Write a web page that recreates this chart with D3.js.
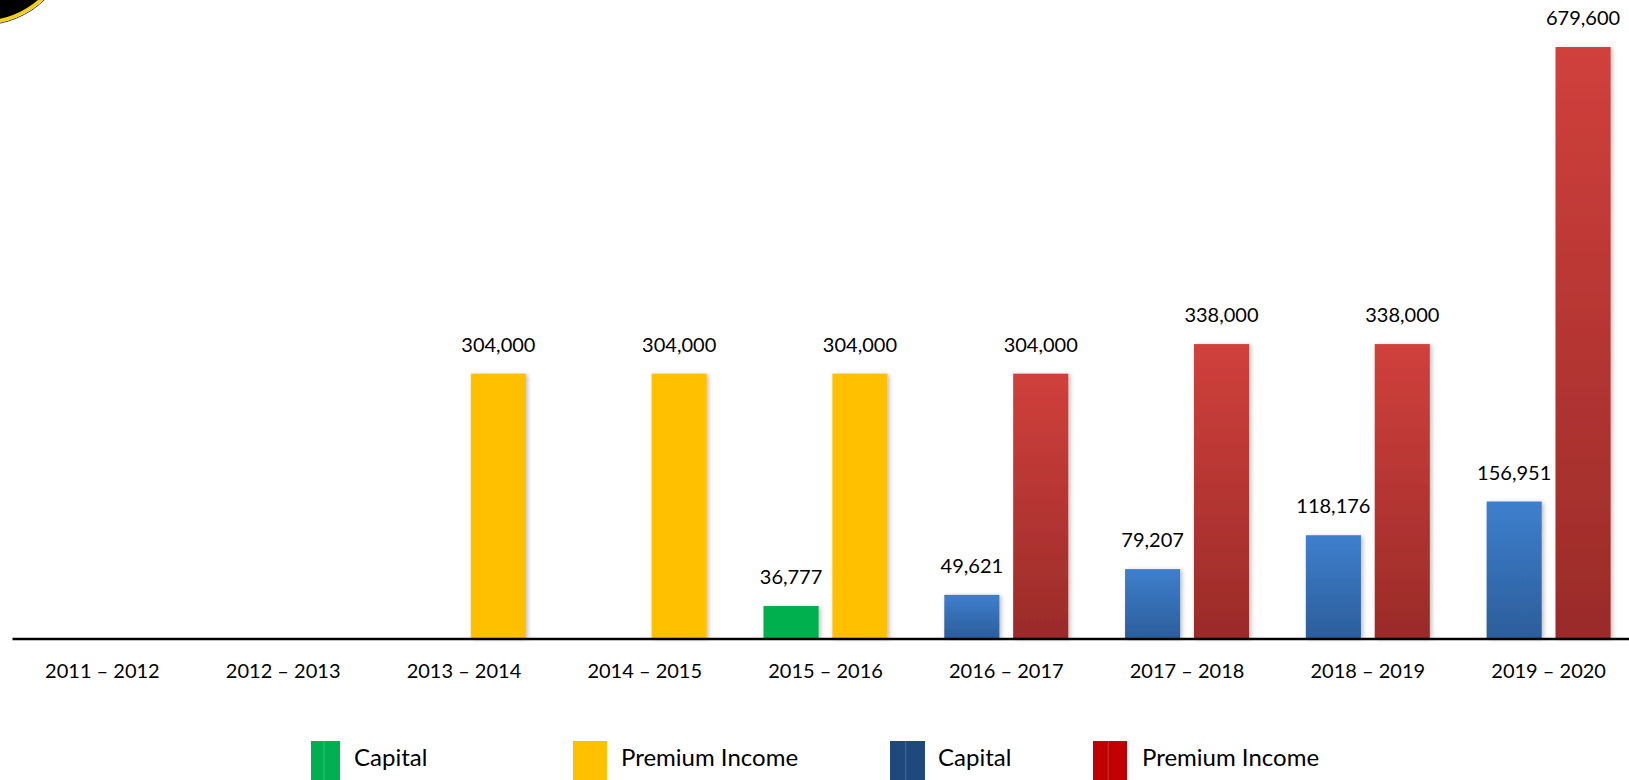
<!DOCTYPE html>
<meta charset="utf-8">
<script src="https://d3js.org/d3.v7.min.js"></script>
<style>
  body { margin: 0; background: #fff; font-family: Lato, "Noto Sans", sans-serif; }
  svg { display: block; }
  .axis text { font-size: 20px; fill: #000; font-family: Lato, sans-serif; }
  .label { font-size: 20px; fill: #000; text-anchor: middle; }
  .legend text { font-size: 24px; fill: #000; }
</style>
<body>
<div id="chart"></div>
<script>
// data
var years = ["2011 – 2012", "2012 – 2013", "2013 – 2014", "2014 – 2015", "2015 – 2016",
             "2016 – 2017", "2017 – 2018", "2018 – 2019", "2019 – 2020"];
var capitalOld = [null, null, null, null, 36777, null, null, null, null];
var premiumOld = [null, null, 304000, 304000, 304000, null, null, null, null];
var capitalNew = [null, null, null, null, null, 49621, 79207, 118176, 156951];
var premiumNew = [null, null, null, null, null, 304000, 338000, 338000, 679600];
var legendNames = ["Capital", "Premium Income", "Capital", "Premium Income"];

var width = 1629, height = 780;

var svg = d3.select("#chart").append("svg")
  .attr("width", width)
  .attr("height", height);

var defs = svg.append("defs");

function vGrad(id, top, bottom) {
  var g = defs.append("linearGradient").attr("id", id)
    .attr("x1", 0).attr("y1", 0).attr("x2", 0).attr("y2", 1);
  g.append("stop").attr("offset", "0%").attr("stop-color", top);
  g.append("stop").attr("offset", "100%").attr("stop-color", bottom);
}
vGrad("gBlue", "#3e7fcd", "#2c5e9b");
vGrad("gRed", "#d0403c", "#9a2b29");

var shadow = defs.append("filter").attr("id", "shadow")
  .attr("x", "-20%").attr("y", "-5%").attr("width", "140%").attr("height", "110%");
shadow.append("feDropShadow")
  .attr("dx", 2).attr("dy", 1).attr("stdDeviation", 2)
  .attr("flood-color", "#000").attr("flood-opacity", 0.25);

// series: slot decides left/right position inside a year
var series = [
  { name: legendNames[0], slot: "cap", values: capitalOld, fill: "#00b050", key: "#00b050", split: true },
  { name: legendNames[1], slot: "prem", values: premiumOld, fill: "#ffc000", key: "#ffc000", split: false },
  { name: legendNames[2], slot: "cap", values: capitalNew, fill: "url(#gBlue)", key: "#1f497d", split: true },
  { name: legendNames[3], slot: "prem", values: premiumNew, fill: "url(#gRed)", key: "#c00000", split: true }
];

var x = d3.scaleBand()
  .domain(years)
  .range([12, 1639]);

var x1 = d3.scaleBand()
  .domain(["cap", "prem"])
  .range([x.bandwidth() / 2 - 62, x.bandwidth() / 2 + 62])
  .paddingInner(0.2);

var y = d3.scaleLinear()
  .domain([0, 700000])
  .range([638, 638 - 700000 * 0.0008696]);

var fmt = d3.format(",");

// bars
series.forEach(function(s) {
  var pts = s.values.map(function(v, i) { return { year: years[i], value: v }; })
    .filter(function(d) { return d.value != null; });

  var g = svg.append("g");
  g.selectAll("rect")
    .data(pts)
    .enter()
    .append("rect")
    .attr("x", function(d) { return x(d.year) + x1(s.slot); })
    .attr("y", function(d) { return y(d.value); })
    .attr("width", x1.bandwidth())
    .attr("height", function(d) { return y(0) - y(d.value); })
    .attr("fill", s.fill)
    .attr("filter", "url(#shadow)");

  g.selectAll("text")
    .data(pts)
    .enter()
    .append("text")
    .attr("class", "label")
    .attr("x", function(d) { return x(d.year) + x1(s.slot) + x1.bandwidth() / 2; })
    .attr("y", function(d) { return y(d.value) - 22; })
    .text(function(d) { return fmt(d.value); });
});

// category axis
var axis = svg.append("g")
  .attr("class", "axis")
  .attr("transform", "translate(0," + 638.5 + ")")
  .call(d3.axisBottom(x).tickSize(0).tickPadding(25));
axis.select(".domain").attr("stroke", "#000").attr("stroke-width", 2.5);

// legend
var legendPos = [
  { sx: 311, sw: 29, tx: 354 },
  { sx: 573, sw: 34, tx: 621 },
  { sx: 890, sw: 35, tx: 938 },
  { sx: 1093, sw: 34, tx: 1142 }
];
var legend = svg.append("g").attr("class", "legend");
series.forEach(function(s, i) {
  var p = legendPos[i];
  var lg = legend.append("g");
  lg.append("rect")
    .attr("x", p.sx).attr("y", 741)
    .attr("width", p.sw).attr("height", 42)
    .attr("fill", s.key);
  if (s.split) {
    lg.append("line")
      .attr("x1", p.sx + p.sw * 0.45).attr("x2", p.sx + p.sw * 0.45)
      .attr("y1", 741).attr("y2", 780)
      .attr("stroke", "#fff").attr("stroke-opacity", 0.2).attr("stroke-width", 1);
  }
  lg.append("text")
    .attr("x", p.tx).attr("y", 766)
    .text(s.name);
});

// decorative badge corner, top left
svg.append("circle")
  .attr("cx", -18).attr("cy", -65).attr("r", 90)
  .attr("fill", "none").attr("stroke", "#444").attr("stroke-width", 1);
svg.append("circle")
  .attr("cx", -18).attr("cy", -65).attr("r", 87.5)
  .attr("fill", "#000").attr("stroke", "#f2d016").attr("stroke-width", 3.5);
</script>
</body>
